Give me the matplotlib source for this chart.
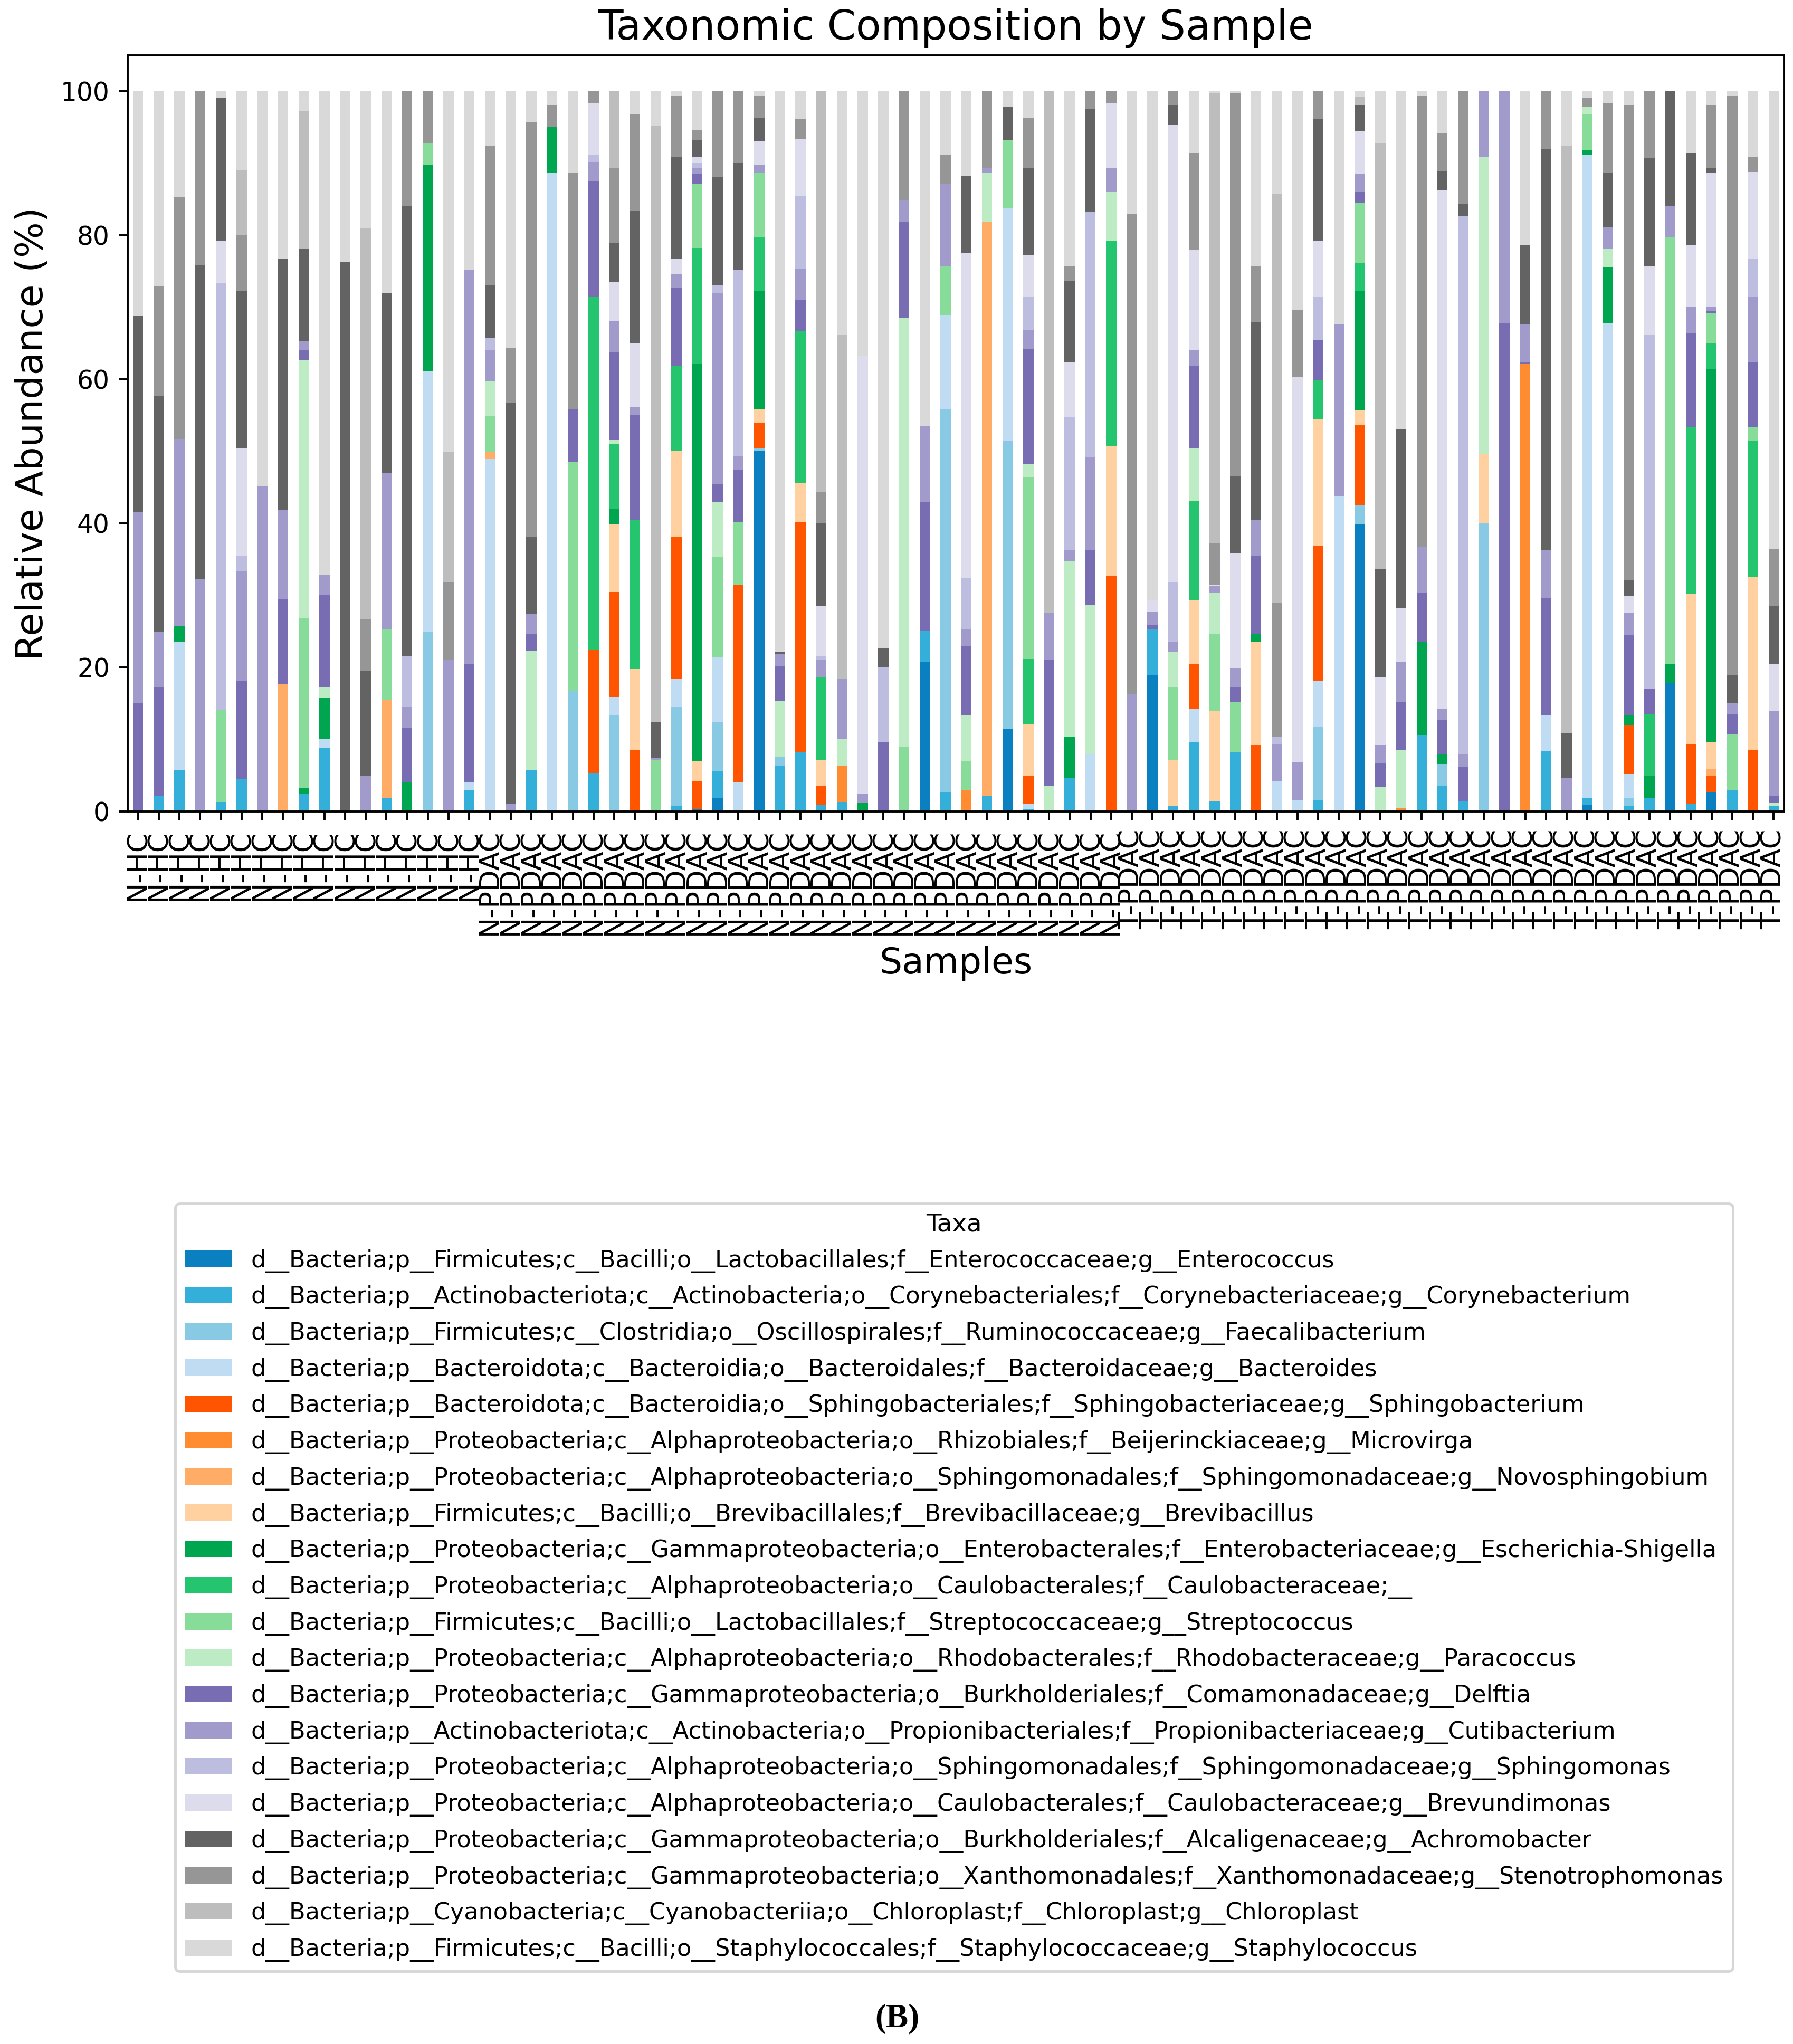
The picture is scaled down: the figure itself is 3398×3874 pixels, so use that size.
import numpy as np
import pandas as pd
import matplotlib
matplotlib.use("Agg")
import matplotlib.pyplot as plt

# sample groups (17 N-HC, 31 N-PDAC, 32 T-PDAC)
samples = ["N-HC"] * 17 + ["N-PDAC"] * 31 + ["T-PDAC"] * 32

taxa = [
    "d__Bacteria;p__Firmicutes;c__Bacilli;o__Lactobacillales;f__Enterococcaceae;g__Enterococcus",
    "d__Bacteria;p__Actinobacteriota;c__Actinobacteria;o__Corynebacteriales;f__Corynebacteriaceae;g__Corynebacterium",
    "d__Bacteria;p__Firmicutes;c__Clostridia;o__Oscillospirales;f__Ruminococcaceae;g__Faecalibacterium",
    "d__Bacteria;p__Bacteroidota;c__Bacteroidia;o__Bacteroidales;f__Bacteroidaceae;g__Bacteroides",
    "d__Bacteria;p__Bacteroidota;c__Bacteroidia;o__Sphingobacteriales;f__Sphingobacteriaceae;g__Sphingobacterium",
    "d__Bacteria;p__Proteobacteria;c__Alphaproteobacteria;o__Rhizobiales;f__Beijerinckiaceae;g__Microvirga",
    "d__Bacteria;p__Proteobacteria;c__Alphaproteobacteria;o__Sphingomonadales;f__Sphingomonadaceae;g__Novosphingobium",
    "d__Bacteria;p__Firmicutes;c__Bacilli;o__Brevibacillales;f__Brevibacillaceae;g__Brevibacillus",
    "d__Bacteria;p__Proteobacteria;c__Gammaproteobacteria;o__Enterobacterales;f__Enterobacteriaceae;g__Escherichia-Shigella",
    "d__Bacteria;p__Proteobacteria;c__Alphaproteobacteria;o__Caulobacterales;f__Caulobacteraceae;__",
    "d__Bacteria;p__Firmicutes;c__Bacilli;o__Lactobacillales;f__Streptococcaceae;g__Streptococcus",
    "d__Bacteria;p__Proteobacteria;c__Alphaproteobacteria;o__Rhodobacterales;f__Rhodobacteraceae;g__Paracoccus",
    "d__Bacteria;p__Proteobacteria;c__Gammaproteobacteria;o__Burkholderiales;f__Comamonadaceae;g__Delftia",
    "d__Bacteria;p__Actinobacteriota;c__Actinobacteria;o__Propionibacteriales;f__Propionibacteriaceae;g__Cutibacterium",
    "d__Bacteria;p__Proteobacteria;c__Alphaproteobacteria;o__Sphingomonadales;f__Sphingomonadaceae;g__Sphingomonas",
    "d__Bacteria;p__Proteobacteria;c__Alphaproteobacteria;o__Caulobacterales;f__Caulobacteraceae;g__Brevundimonas",
    "d__Bacteria;p__Proteobacteria;c__Gammaproteobacteria;o__Burkholderiales;f__Alcaligenaceae;g__Achromobacter",
    "d__Bacteria;p__Proteobacteria;c__Gammaproteobacteria;o__Xanthomonadales;f__Xanthomonadaceae;g__Stenotrophomonas",
    "d__Bacteria;p__Cyanobacteria;c__Cyanobacteriia;o__Chloroplast;f__Chloroplast;g__Chloroplast",
    "d__Bacteria;p__Firmicutes;c__Bacilli;o__Staphylococcales;f__Staphylococcaceae;g__Staphylococcus",
]

# relative abundance per taxon, one value per sample (80)
enterococcus = [0, 0, 0, 0, 0, 0, 0, 0, 0, 0,
                0, 0, 0, 0, 0, 0, 0, 0, 0, 0,
                0, 0, 0, 0, 0, 0, 0, 0.3, 1.9, 0,
                50.0, 0, 0, 0, 0, 0, 0, 0, 20.8, 0,
                0, 0, 11.5, 0, 0, 0, 0, 0, 0, 19.0,
                0, 0, 0, 0, 0, 0, 0, 0, 0, 39.9,
                0, 0, 0, 0, 0, 0, 0, 0, 0, 0,
                0.9, 0, 0, 0, 17.8, 0, 2.6, 0, 0, 0]
corynebacterium = [0, 2.1, 5.8, 0, 1.3, 4.5, 0, 0, 2.4, 8.8,
                   0, 0, 1.9, 0, 0, 0, 3.0, 0, 0, 5.8,
                   0, 0, 5.3, 0, 0, 0, 0.7, 0, 3.7, 0,
                   0, 6.3, 8.3, 0.9, 1.3, 0, 0, 0, 4.3, 2.7,
                   0, 2.1, 0, 0.3, 0, 4.6, 0, 0, 0, 6.3,
                   0.7, 9.6, 1.5, 8.2, 0, 0, 0, 1.6, 0, 0,
                   0, 0, 10.6, 3.5, 1.5, 0, 0, 0, 8.4, 0,
                   1.0, 0, 0.8, 1.9, 0, 1.0, 0, 3.0, 0, 0.8]
faecalibacterium = [0, 0, 0, 0, 0, 0, 0, 0, 0, 0,
                    0, 0, 0, 0, 24.9, 0, 0, 0, 0, 0,
                    0, 16.8, 0, 13.3, 0, 0, 13.8, 0, 6.8, 0,
                    0.4, 1.3, 0, 0, 0, 0, 0, 0, 0, 53.2,
                    0, 0, 39.9, 0, 0, 0, 0, 0, 0, 0,
                    0, 0, 0, 0, 0, 0, 0, 10.1, 0, 2.6,
                    0, 0, 0, 3.1, 0, 40.0, 0, 0, 0, 0,
                    0, 0, 1.1, 0, 0, 0, 0, 0, 0, 0]
bacteroides = [0, 0, 17.8, 0, 0, 0, 0, 0, 0, 1.3,
               0, 0, 0, 0, 36.2, 0, 1.0, 49.0, 0, 0,
               88.6, 0, 0, 2.6, 0, 0, 3.9, 0, 9.0, 4.0,
               0, 0, 0, 0, 0, 0, 0, 0, 0, 13.0,
               0, 0, 32.3, 0.7, 0, 0, 7.9, 0, 0, 0,
               0, 4.7, 0, 0, 0, 4.2, 1.6, 6.5, 43.7, 0,
               0, 0, 0, 0, 0, 0, 0, 0, 4.9, 0,
               89.2, 67.8, 3.3, 0, 0, 0, 0, 0, 0, 0]
sphingobacterium = [0, 0, 0, 0, 0, 0, 0, 0, 0, 0,
                    0, 0, 0, 0, 0, 0, 0, 0, 0, 0,
                    0, 0, 17.1, 14.6, 8.6, 0, 19.7, 3.9, 0, 27.5,
                    3.6, 0, 31.9, 2.6, 0, 0, 0, 0, 0, 0,
                    0, 0, 0, 4.0, 0, 0, 0, 32.7, 0, 0,
                    0, 6.1, 0, 0, 9.2, 0, 0, 18.7, 0, 11.2,
                    0, 0, 0, 0, 0, 0, 0, 0, 0, 0,
                    0, 0, 6.8, 0, 0, 8.3, 2.4, 0, 8.6, 0]
microvirga = [0, 0, 0, 0, 0, 0, 0, 0, 0, 0,
              0, 0, 0, 0, 0, 0, 0, 0, 0, 0,
              0, 0, 0, 0, 0, 0, 0, 0, 0, 0,
              0, 0, 0, 0, 5.1, 0, 0, 0, 0, 0,
              2.9, 0, 0, 0, 0, 0, 0, 0, 0, 0,
              0, 0, 0, 0, 0, 0, 0, 0, 0, 0,
              0, 0.5, 0, 0, 0, 0, 0, 62.2, 0, 0,
              0, 0, 0, 0, 0, 0, 0, 0, 0, 0]
novosphingobium = [0, 0, 0, 0, 0, 0, 0, 17.7, 0, 0,
                   0, 0, 13.6, 0, 0, 0, 0, 0.9, 0, 0,
                   0, 0, 0, 0, 0, 0, 0, 0, 0, 0,
                   0, 0, 0, 0, 0, 0, 0, 0, 0, 0,
                   0, 79.7, 0, 0, 0, 0, 0, 0, 0, 0,
                   0, 0, 0, 0, 0, 0, 0, 0, 0, 0,
                   0, 0, 0, 0, 0, 0, 0, 0, 0, 0,
                   0, 0, 0, 0, 0, 0, 0.9, 0, 0, 0]
brevibacillus = [0, 0, 0, 0, 0, 0, 0, 0, 0, 0,
                 0, 0, 0, 0, 0, 0, 0, 0, 0, 0,
                 0, 0, 0, 9.4, 11.2, 0, 11.9, 2.8, 0, 0,
                 1.9, 0, 5.4, 3.6, 0, 0, 0, 0, 0, 0,
                 0, 0, 0, 7.1, 0, 0, 0, 18.0, 0, 0,
                 6.4, 8.9, 12.4, 0, 14.4, 0, 0, 17.5, 0, 2.0,
                 0, 0, 0, 0, 0, 9.6, 0, 0, 0, 0,
                 0, 0, 0, 0, 0, 20.9, 3.7, 0, 24.0, 0]
escherichia = [0, 0, 2.1, 0, 0, 0, 0, 0, 0.8, 5.7,
               0, 0, 0, 4.0, 28.6, 0, 0, 0, 0, 0,
               6.5, 0, 0, 2.1, 0, 0, 0, 55.2, 0, 0,
               16.4, 0, 0, 0, 0, 1.2, 0, 0, 0, 0,
               0, 0, 0, 0, 0, 5.8, 0, 0, 0, 0,
               0, 0, 0, 0, 1.0, 0, 0, 0, 0, 16.6,
               0, 0, 13.0, 1.4, 0, 0, 0, 0, 0, 0,
               0.7, 7.8, 1.4, 3.1, 2.7, 0, 51.8, 0, 0, 0]
caulobacteraceae = [0, 0, 0, 0, 0, 0, 0, 0, 0, 0,
                    0, 0, 0, 0, 0, 0, 0, 0, 0, 0,
                    0, 0, 49.0, 9.0, 20.6, 0, 11.9, 16.0, 0, 0,
                    7.5, 0, 21.1, 11.5, 0, 0, 0, 0, 0, 0,
                    0, 0, 0, 9.1, 0, 0, 0, 28.5, 0, 0,
                    0, 13.8, 0, 0, 0, 0, 0, 5.5, 0, 3.9,
                    0, 0, 0, 0, 0, 0, 0, 0, 0, 0,
                    0, 0, 0, 8.5, 0, 23.2, 3.6, 0, 18.9, 0]
streptococcus = [0, 0, 0, 0, 12.8, 0, 0, 0, 23.6, 0,
                 0, 0, 9.8, 0, 3.1, 0, 0, 5.0, 0, 0,
                 0, 31.8, 0, 0, 0, 7.2, 0, 8.9, 14.0, 8.7,
                 8.9, 0, 0, 0, 0, 0, 0, 9.0, 0, 6.8,
                 4.1, 0, 9.5, 25.2, 0, 0, 0, 0, 0, 0,
                 10.1, 0, 10.7, 7.0, 0, 0, 0, 0, 0, 8.3,
                 0, 0, 0, 0, 0, 0, 0, 0, 0, 0,
                 5.0, 0, 0, 0, 59.3, 0, 4.2, 7.7, 1.9, 0]
paracoccus = [0, 0, 0, 0, 0, 0, 0, 0, 35.9, 1.5,
              0, 0, 0, 0, 0, 0, 0, 4.8, 0, 16.5,
              0, 0, 0, 0.6, 0, 0, 0, 0, 7.5, 0,
              0, 7.8, 0, 0, 3.7, 0, 0, 59.6, 0, 0,
              6.3, 6.9, 0, 1.8, 3.5, 24.4, 20.8, 6.9, 0, 0,
              4.9, 7.3, 5.7, 0, 0, 0, 0, 0, 0, 0,
              3.4, 8.0, 0, 0, 0, 41.2, 0, 0, 0, 0,
              1.1, 2.5, 0, 0, 0, 0, 0, 0, 0, 0.4]
delftia = [15.1, 15.2, 0, 0, 0, 13.7, 0, 11.8, 1.3, 12.7,
           0, 0, 0, 7.6, 0, 0, 16.5, 0, 0, 2.3,
           0, 7.3, 16.1, 12.1, 14.6, 0, 10.8, 1.4, 2.5, 7.2,
           0, 4.8, 4.3, 0, 0, 0, 9.6, 13.3, 17.8, 0,
           9.7, 0, 0, 16.0, 17.5, 0, 7.6, 0, 0, 0.6,
           0, 11.4, 0, 2.0, 10.9, 0, 0, 5.5, 0, 1.5,
           3.3, 6.7, 6.7, 4.7, 4.7, 0, 67.8, 0.2, 16.3, 0,
           0, 0, 11.1, 3.5, 0, 13.0, 0.3, 2.8, 9.0, 1.0]
cutibacterium = [26.5, 7.6, 26.0, 32.2, 0, 15.2, 45.1, 12.4, 1.3, 2.8,
                 0, 5.0, 21.7, 2.9, 0, 21.0, 54.7, 4.3, 1.1, 2.9,
                 0, 0, 2.7, 4.4, 1.2, 0.3, 1.9, 0.8, 26.5, 1.9,
                 1.1, 1.7, 4.4, 2.4, 8.3, 1.3, 0, 3.0, 10.6, 11.5,
                 2.3, 0.6, 0, 2.7, 6.6, 1.5, 12.9, 3.3, 16.3, 1.8,
                 1.5, 2.2, 1.0, 2.7, 5.0, 5.1, 5.3, 0, 23.9, 2.5,
                 2.5, 5.5, 6.5, 1.6, 1.7, 9.2, 32.2, 5.3, 6.7, 4.6,
                 0, 3.0, 3.1, 0, 4.3, 3.6, 0.6, 1.6, 9.0, 11.7]
sphingomonas = [0, 0, 0, 0, 59.2, 2.1, 0, 0, 0, 0,
                0, 0, 0, 7.0, 0, 0, 0, 1.8, 0, 0,
                0, 0, 0.9, 0, 0, 0, 0, 0.7, 1.2, 25.9,
                0, 0, 10.0, 0.6, 0, 0, 10.4, 0, 0, 0,
                7.1, 0, 0, 4.6, 0, 18.4, 34.1, 0, 0, 0,
                8.2, 0, 0, 0, 0, 1.1, 0, 6.1, 0, 0,
                0, 0, 0, 0, 74.7, 0, 0, 0, 0, 0,
                0, 0, 0, 49.2, 0, 0, 0, 0, 5.4, 0]
brevundimonas = [0, 0, 0, 0, 5.9, 14.9, 0, 0, 0, 0,
                 0, 0, 0, 0, 0, 0, 0, 0, 0, 0,
                 0, 0, 7.3, 5.4, 8.8, 0, 2.1, 0.9, 0, 0,
                 3.2, 0, 8.0, 7.0, 0, 60.7, 0, 0, 0, 0,
                 45.2, 0, 0, 5.8, 0, 7.7, 0, 8.9, 0, 1.6,
                 63.6, 14.0, 0.2, 16.0, 0, 0, 53.4, 7.7, 0, 5.9,
                 9.4, 7.6, 0, 72.0, 0, 0, 0, 0, 0, 0,
                 0, 0, 2.3, 9.5, 0, 8.6, 18.5, 0, 12.0, 6.5]
achromobacter = [27.2, 32.8, 0, 43.6, 19.9, 21.8, 0, 34.9, 12.8, 0,
                 76.3, 14.5, 25.0, 62.6, 0, 0, 0, 7.3, 55.6, 10.7,
                 0, 0, 0, 5.5, 18.4, 4.9, 14.2, 2.3, 15.0, 14.9,
                 3.3, 0.3, 0, 11.4, 0, 0, 2.6, 0, 0, 0,
                 10.7, 0, 4.7, 12.0, 0, 11.2, 14.3, 0, 0, 0,
                 2.7, 0, 0, 10.7, 27.4, 0, 0, 16.9, 0, 3.7,
                 15.0, 24.8, 0, 2.6, 1.8, 0, 0, 10.9, 55.7, 6.3,
                 0, 7.5, 2.2, 15.0, 15.9, 12.8, 0.7, 3.8, 0, 8.2]
stenotrophomonas = [0, 15.2, 33.6, 24.2, 0, 7.8, 0, 0, 0, 0,
                    0, 7.2, 0, 15.9, 7.2, 10.8, 0, 19.3, 7.6, 57.5,
                    3.0, 32.7, 1.6, 10.3, 13.4, 0, 8.4, 1.4, 11.9, 9.9,
                    3.0, 0, 2.8, 4.3, 0, 0, 0, 15.1, 0, 4.0,
                    0, 10.7, 0, 7.0, 0, 2.1, 2.4, 1.7, 66.6, 0,
                    1.9, 13.4, 5.8, 53.1, 7.8, 18.6, 9.3, 3.9, 0, 0,
                    0, 0, 62.5, 5.2, 15.6, 0, 0, 0, 8.0, 0,
                    1.2, 9.8, 66.0, 9.3, 0, 0, 8.8, 80.4, 2.0, 7.9]
chloroplast = [0, 0, 0, 0, 0, 9.1, 0, 0, 19.1, 0,
               0, 54.3, 0, 0, 0, 18.1, 0, 0, 0, 0,
               0, 0, 0, 10.7, 0, 82.8, 0, 0, 0, 0,
               0, 0, 0, 55.7, 47.8, 0, 0, 0, 0, 0,
               0, 0, 0, 0, 72.4, 0, 0, 0, 0, 0,
               0, 0, 62.4, 0, 0, 56.8, 0, 0, 0, 1.1,
               59.2, 0, 0, 0, 0, 0, 0, 0, 0, 81.5,
               0, 0, 0, 0, 0, 0, 0, 0, 0, 0]
staphylococcus = [31.2, 27.1, 14.7, 0, 0.9, 10.9, 54.9, 23.2, 2.8, 67.2,
                  23.7, 19.0, 28.0, 0, 0, 50.1, 24.8, 7.6, 35.7, 4.3,
                  1.9, 11.4, 0, 0, 3.2, 4.8, 0.7, 5.4, 0, 0,
                  0.7, 77.8, 3.8, 0, 33.8, 36.8, 77.4, 0, 46.5, 8.8,
                  11.7, 0, 2.1, 3.7, 0, 24.3, 0, 0, 17.1, 70.7,
                  0, 8.6, 0.3, 0.3, 24.3, 14.2, 30.4, 0, 32.4, 0.8,
                  7.2, 46.9, 0.7, 5.9, 0, 0, 0, 21.4, 0, 7.6,
                  0.9, 1.6, 1.9, 0, 0, 8.6, 1.9, 0.7, 9.2, 63.5]

colors = ["#0a80c0", "#34afd9", "#88c9e3", "#bfdcf2",
          "#ff5400", "#ff8c30", "#ffac66", "#ffd0a0",
          "#00a550", "#24c56e", "#86dc98", "#bdebc3",
          "#786cb2", "#a09bcb", "#bdbde0", "#dcdcec",
          "#636363", "#969696", "#bdbdbd", "#d9d9d9"]

series = [enterococcus, corynebacterium, faecalibacterium, bacteroides,
          sphingobacterium, microvirga, novosphingobium, brevibacillus,
          escherichia, caulobacteraceae, streptococcus, paracoccus,
          delftia, cutibacterium, sphingomonas, brevundimonas,
          achromobacter, stenotrophomonas, chloroplast, staphylococcus]

df = pd.DataFrame(np.array(series).T, columns=taxa, index=samples)
df = df.div(df.sum(axis=1), axis=0) * 100  # relative abundance per sample

fig = plt.figure(figsize=(3398 / 350, 3874 / 350), dpi=350)
ax = fig.add_axes([0.0712, 0.6030, 0.9238, 0.3700])

df.plot(kind="bar", stacked=True, ax=ax, color=colors, width=0.5, legend=False)
ax.set_xlim(-0.5, len(samples) - 0.5)
ax.set_title("Taxonomic Composition by Sample", fontsize=16)
ax.set_xlabel("Samples", fontsize=14)
ax.set_ylabel("Relative Abundance (%)", fontsize=14.7)
ax.tick_params(axis="x", labelsize=10.8, labelrotation=90)
ax.tick_params(axis="y", labelsize=10)

handles, labels = ax.get_legend_handles_labels()
fig.legend(handles, labels, title="Taxa", loc="upper center",
           bbox_to_anchor=(0.532, 0.4112), borderaxespad=0, fontsize=9.2,
           title_fontsize=9.6, labelspacing=0.53)

fig.text(0.5003, 0.0124, "(B)", ha="center", va="center", fontsize=13,
         fontweight="bold", family="Liberation Serif")

fig.savefig("out.png", dpi=350)
